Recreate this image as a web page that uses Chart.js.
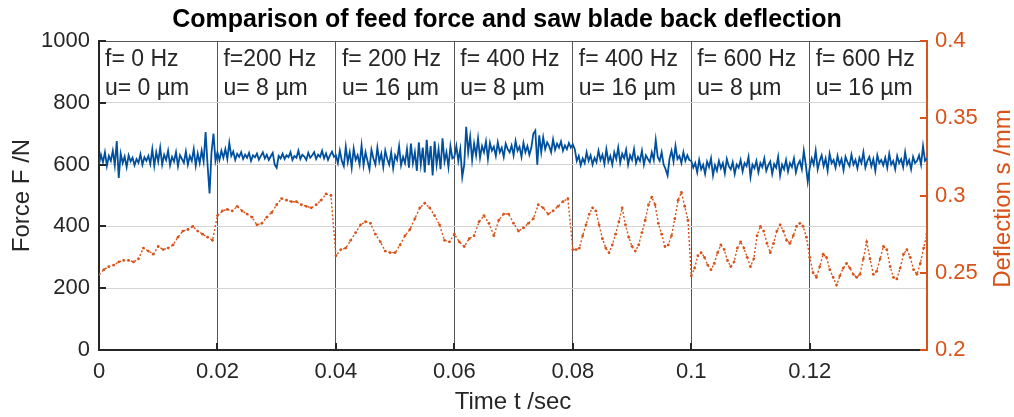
<!DOCTYPE html>
<html lang="en">
<head>
<meta charset="UTF-8">
<title>Feed force and saw blade back deflection</title>
<style>
  body { margin: 0; background: #fff; }
</style>
</head>
<body>
<canvas id="chart" width="1014" height="417"></canvas>

<script src="https://cdn.jsdelivr.net/npm/chart.js"></script>
<script>
// test segments: start time (s), excitation frequency and amplitude
const segmentStarts = [0, 0.02, 0.04, 0.06, 0.08, 0.1, 0.12];
const timeEnd = 0.1398;
const freqLabels = ['f= 0 Hz', 'f=200 Hz', 'f= 200 Hz', 'f= 400 Hz', 'f= 400 Hz', 'f= 600 Hz', 'f= 600 Hz'];
const ampLabels = ['u= 0 µm', 'u= 8 µm', 'u= 16 µm', 'u= 8 µm', 'u= 16 µm', 'u= 8 µm', 'u= 16 µm'];

// feed force F /N per segment
const forceSeg1 = [600, 632, 608, 640, 596, 628, 612, 645, 598, 676, 557, 635, 605, 626, 592, 630, 610, 622, 598, 618, 606, 634, 600, 624, 612, 628, 602, 650, 596, 640, 610, 655, 600, 632, 615, 645, 598, 625, 610, 640, 595, 630, 618, 606, 642, 600, 628, 612, 650, 596, 636, 605, 645, 610, 705, 598, 507, 640, 700, 612];
const forceSeg2 = [640, 615, 645, 622, 650, 618, 670, 628, 642, 615, 635, 625, 640, 618, 632, 622, 638, 612, 630, 624, 636, 616, 628, 640, 620, 632, 615, 627, 638, 600, 590, 628, 620, 635, 618, 630, 624, 640, 615, 628, 622, 645, 618, 632, 626, 615, 638, 622, 630, 640, 618, 632, 625, 645, 620, 636, 615, 630, 642, 625];
const forceSeg3 = [630, 605, 645, 612, 595, 658, 608, 640, 590, 652, 615, 630, 600, 662, 598, 640, 612, 585, 648, 620, 600, 655, 610, 635, 592, 645, 618, 600, 640, 588, 630, 615, 660, 598, 625, 605, 650, 590, 668, 605, 640, 580, 672, 600, 655, 575, 680, 598, 660, 565, 675, 600, 650, 585, 685, 610, 640, 592, 660, 620];
const forceSeg4 = [625, 660, 612, 650, 560, 600, 722, 640, 690, 615, 668, 630, 685, 622, 660, 640, 675, 618, 670, 645, 658, 628, 672, 640, 655, 625, 668, 650, 640, 662, 630, 676, 645, 658, 625, 670, 640, 660, 632, 655, 700, 710, 600, 695, 640, 688, 650, 672, 660, 640, 682, 648, 668, 655, 675, 645, 662, 650, 670, 655];
const forceSeg5 = [665, 650, 612, 628, 598, 620, 605, 640, 612, 630, 600, 622, 608, 645, 615, 632, 602, 650, 610, 628, 600, 640, 618, 655, 606, 635, 620, 648, 600, 630, 615, 650, 605, 625, 612, 645, 600, 630, 618, 608, 640, 615, 680, 625, 612, 640, 600, 585, 565, 620, 645, 610, 660, 618, 628, 605, 640, 612, 630, 615];
const forceSeg6 = [612, 590, 605, 575, 615, 585, 600, 570, 610, 592, 620, 565, 598, 580, 612, 588, 605, 572, 618, 595, 585, 608, 570, 600, 590, 615, 578, 605, 595, 625, 560, 600, 588, 612, 575, 605, 592, 620, 580, 598, 610, 570, 602, 590, 625, 565, 600, 585, 615, 578, 605, 592, 620, 575, 600, 612, 585, 645, 600, 545];
const forceSeg7 = [590, 620, 600, 645, 585, 612, 630, 595, 620, 580, 635, 605, 615, 590, 628, 600, 618, 582, 625, 608, 595, 632, 600, 615, 588, 622, 605, 640, 590, 612, 625, 595, 618, 580, 630, 605, 615, 598, 622, 590, 635, 600, 612, 585, 628, 605, 618, 592, 640, 600, 615, 585, 625, 605, 612, 630, 600, 660, 612, 620];

// saw blade back deflection s /mm
const deflSeg1 = [0.249, 0.252, 0.254, 0.255, 0.257, 0.258, 0.258, 0.257, 0.259, 0.266, 0.264, 0.262, 0.267, 0.265, 0.266, 0.268, 0.273, 0.277, 0.278, 0.280, 0.277, 0.275, 0.273, 0.271];
const deflSeg2 = [0.287, 0.290, 0.291, 0.290, 0.293, 0.290, 0.288, 0.286, 0.281, 0.282, 0.286, 0.289, 0.294, 0.298, 0.297, 0.296, 0.296, 0.294, 0.293, 0.292, 0.294, 0.297, 0.301, 0.300];
const deflSeg3 = [0.261, 0.265, 0.266, 0.271, 0.276, 0.281, 0.283, 0.282, 0.275, 0.270, 0.264, 0.263, 0.263, 0.268, 0.274, 0.278, 0.285, 0.292, 0.295, 0.292, 0.287, 0.281, 0.271, 0.270];
const deflSeg4 = [0.275, 0.270, 0.267, 0.272, 0.274, 0.283, 0.287, 0.282, 0.274, 0.284, 0.288, 0.288, 0.282, 0.277, 0.279, 0.282, 0.285, 0.294, 0.292, 0.288, 0.290, 0.293, 0.296, 0.298];
const deflSeg5 = [0.265, 0.265, 0.266, 0.274, 0.281, 0.288, 0.292, 0.290, 0.281, 0.272, 0.266, 0.263, 0.268, 0.275, 0.283, 0.292, 0.281, 0.273, 0.267, 0.264, 0.268, 0.276, 0.284, 0.294, 0.299, 0.294, 0.282, 0.275, 0.267, 0.268, 0.274, 0.285, 0.297, 0.302, 0.293, 0.284];
const deflSeg6 = [0.248, 0.253, 0.261, 0.263, 0.260, 0.255, 0.252, 0.256, 0.263, 0.268, 0.265, 0.258, 0.254, 0.257, 0.266, 0.270, 0.266, 0.260, 0.254, 0.259, 0.274, 0.280, 0.277, 0.269, 0.263, 0.269, 0.277, 0.281, 0.277, 0.271, 0.269, 0.274, 0.280, 0.282, 0.280, 0.273];
const deflSeg7 = [0.260, 0.250, 0.247, 0.254, 0.262, 0.260, 0.252, 0.247, 0.242, 0.248, 0.253, 0.256, 0.253, 0.249, 0.247, 0.249, 0.259, 0.270, 0.259, 0.249, 0.251, 0.259, 0.267, 0.265, 0.254, 0.247, 0.246, 0.253, 0.262, 0.265, 0.260, 0.252, 0.249, 0.256, 0.266, 0.275];

const BLUE = '#00509e';
const ORANGE = '#d95319';
const TEXT = '#262626';
const FONT = 'Arial, "Liberation Sans", Helvetica, sans-serif';

// spread each segment's samples evenly over its time span
function toPoints(segments) {
    const pts = [];
    segments.forEach((vals, k) => {
        const t0 = segmentStarts[k];
        const last = k === segments.length - 1;
        const t1 = last ? timeEnd : segmentStarts[k + 1];
        const dt = (t1 - t0) / (last ? vals.length - 1 : vals.length);
        vals.forEach((v, i) => pts.push({ x: t0 + i * dt, y: v }));
    });
    return pts;
}

const forcePoints = toPoints([forceSeg1, forceSeg2, forceSeg3, forceSeg4, forceSeg5, forceSeg6, forceSeg7]);
const deflPoints = toPoints([deflSeg1, deflSeg2, deflSeg3, deflSeg4, deflSeg5, deflSeg6, deflSeg7]);

function fmt(v) {
    return String(Number(v.toFixed(3)));
}

// matlab style: inside ticks, top box line, right axis label, segment notes
const decorations = {
    id: 'decorations',
    afterDraw(chart) {
        const { ctx, chartArea: a, scales: { x, y, y1 } } = chart;
        ctx.save();

        ctx.strokeStyle = '#555';
        ctx.lineWidth = 1;
        ctx.beginPath();
        ctx.moveTo(a.left, a.top + 0.5);
        ctx.lineTo(a.right, a.top + 0.5);
        ctx.stroke();

        ctx.strokeStyle = TEXT;
        ctx.lineWidth = 2;
        ctx.beginPath();
        x.ticks.forEach(t => {
            const px = Math.round(x.getPixelForValue(t.value));
            ctx.moveTo(px, a.bottom);
            ctx.lineTo(px, a.bottom - 7);
        });
        y.ticks.forEach(t => {
            const py = Math.round(y.getPixelForValue(t.value));
            ctx.moveTo(a.left, py);
            ctx.lineTo(a.left + 7, py);
        });
        ctx.stroke();

        ctx.strokeStyle = ORANGE;
        ctx.beginPath();
        y1.ticks.forEach(t => {
            const py = Math.round(y1.getPixelForValue(t.value));
            ctx.moveTo(a.right, py);
            ctx.lineTo(a.right - 7, py);
        });
        ctx.stroke();

        ctx.fillStyle = TEXT;
        ctx.font = '23px ' + FONT;
        ctx.textAlign = 'left';
        ctx.textBaseline = 'alphabetic';
        segmentStarts.forEach((t, k) => {
            const px = x.getPixelForValue(t) + 6;
            ctx.fillText(freqLabels[k], px, a.top + 25);
            ctx.fillText(ampLabels[k], px, a.top + 54);
        });

        ctx.fillStyle = ORANGE;
        ctx.font = '24px ' + FONT;
        ctx.textAlign = 'center';
        ctx.textBaseline = 'middle';
        ctx.translate(1003, (a.top + a.bottom) / 2 + 3);
        ctx.rotate(-Math.PI / 2);
        ctx.fillText('Deflection s /mm', 0, 0);
        ctx.restore();
    }
};

new Chart(document.getElementById('chart'), {
    type: 'line',
    data: {
        datasets: [{
            label: 'Force',
            data: forcePoints,
            yAxisID: 'y',
            borderColor: BLUE,
            borderWidth: 1.8,
            pointRadius: 0,
            tension: 0
        }, {
            label: 'Deflection',
            data: deflPoints,
            yAxisID: 'y1',
            borderColor: ORANGE,
            borderWidth: 1.4,
            borderDash: [2, 2],
            pointRadius: 1.4,
            pointBorderWidth: 0,
            pointBackgroundColor: ORANGE,
            tension: 0
        }]
    },
    options: {
        responsive: false,
        animation: false,
        devicePixelRatio: 1,
        layout: { padding: 0 },
        plugins: {
            legend: { display: false },
            tooltip: { enabled: false },
            title: {
                display: true,
                text: 'Comparison of feed force and saw blade back deflection',
                color: '#000',
                font: { family: FONT, size: 25, weight: 'bold', lineHeight: 1.2 },
                padding: { top: 5, bottom: 6 }
            }
        },
        scales: {
            x: {
                type: 'linear',
                min: 0,
                max: timeEnd,
                ticks: {
                    stepSize: 0.02,
                    includeBounds: false,
                    color: TEXT,
                    font: { family: FONT, size: 22 },
                    padding: 9,
                    maxRotation: 0,
                    callback: v => fmt(v)
                },
                grid: {
                    color: c => (c.tick && c.tick.value === 0) ? 'rgba(0,0,0,0)' : '#555',
                    lineWidth: 1,
                    drawTicks: false
                },
                border: { color: TEXT, width: 2 },
                title: {
                    display: true,
                    text: 'Time t /sec',
                    color: TEXT,
                    font: { family: FONT, size: 24 },
                    padding: { top: 0, bottom: 0 }
                },
                afterFit(s) { s.height = 67; }
            },
            y: {
                position: 'left',
                min: 0,
                max: 1000,
                ticks: {
                    stepSize: 200,
                    color: TEXT,
                    font: { family: FONT, size: 22 },
                    padding: 9,
                    callback: v => String(v)
                },
                grid: { color: '#d4d4d4', lineWidth: 1, drawTicks: false },
                border: { color: TEXT, width: 2 },
                title: {
                    display: true,
                    text: 'Force F /N',
                    color: TEXT,
                    font: { family: FONT, size: 24 },
                    padding: { top: 8, bottom: 0 }
                },
                afterFit(s) { s.width = 99; }
            },
            y1: {
                position: 'right',
                min: 0.2,
                max: 0.4,
                ticks: {
                    stepSize: 0.05,
                    color: ORANGE,
                    font: { family: FONT, size: 22 },
                    padding: 8,
                    callback: v => fmt(v)
                },
                grid: { display: false, drawTicks: false },
                border: { color: ORANGE, width: 2 },
                afterFit(s) { s.width = 87; }
            }
        }
    },
    plugins: [decorations]
});
</script>
</body>
</html>
